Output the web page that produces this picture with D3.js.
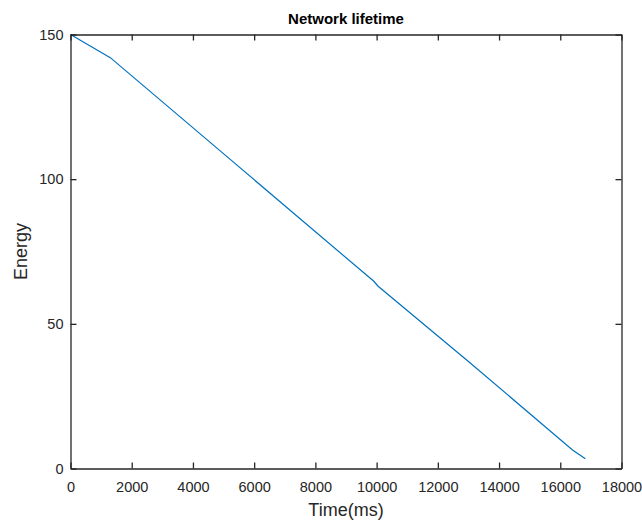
<!DOCTYPE html>
<html lang="en">
<head>
    <meta charset="UTF-8">
    <title>Network lifetime</title>
    <script type="text/javascript" src="https://cdn.jsdelivr.net/npm/d3@7/dist/d3.min.js"></script>
    <style>
        body { margin: 0; background: #fff; }
    </style>
</head>
<body>
<script>
    // data
    const timeMs = [0, 1300, 4900, 7500, 9900, 10050, 13000, 16400, 16820];
    const energy = [150, 142, 109.7, 86.3, 64.8, 63.0, 37.0, 6.4, 3.4];
    const xTicks = [0, 2000, 4000, 6000, 8000, 10000, 12000, 14000, 16000, 18000];
    const yTicks = [0, 50, 100, 150];

    const width = 642, height = 525;
    const margin = {top: 34.5, right: 20.5, bottom: 56.5, left: 70.5};
    const axisColor = '#262626';

    const svg = d3.select('body').append('svg')
        .attr('width', width)
        .attr('height', height)
        .style('font-family', '"Liberation Sans", Arial, sans-serif');

    const x = d3.scaleLinear().domain([0, 18000]).range([margin.left, width - margin.right]);
    const y = d3.scaleLinear().domain([0, 150]).range([height - margin.bottom, margin.top]);

    // 曲线
    const line = d3.line()
        .x((d, i) => x(timeMs[i]))
        .y(d => y(d));

    svg.append('path')
        .datum(energy)
        .attr('fill', 'none')
        .attr('stroke', '#0072BD')
        .attr('stroke-width', 1.2)
        .attr('d', line);

    // axes, ticks inward, box all round
    const styleAxis = g => {
        g.selectAll('path').attr('stroke', axisColor).attr('stroke-width', 1.3);
        g.selectAll('line').attr('stroke', axisColor).attr('stroke-width', 1.3);
        g.selectAll('text').attr('fill', axisColor).style('font-size', '14.5px');
    };

    svg.append('g')
        .attr('transform', `translate(0,${y(0)})`)
        .call(d3.axisBottom(x).tickValues(xTicks).tickFormat(d3.format('d')).tickSizeInner(-6).tickSizeOuter(0).tickPadding(13))
        .call(styleAxis);

    svg.append('g')
        .attr('transform', `translate(0,${y(150)})`)
        .call(d3.axisTop(x).tickValues(xTicks).tickFormat('').tickSizeInner(-6).tickSizeOuter(0))
        .call(styleAxis);

    svg.append('g')
        .attr('transform', `translate(${x(0)},0)`)
        .call(d3.axisLeft(y).tickValues(yTicks).tickSizeInner(-6).tickSizeOuter(0).tickPadding(7))
        .call(styleAxis);

    svg.append('g')
        .attr('transform', `translate(${x(18000)},0)`)
        .call(d3.axisRight(y).tickValues(yTicks).tickFormat('').tickSizeInner(-6).tickSizeOuter(0))
        .call(styleAxis);

    svg.selectAll('.domain').attr('fill', 'none');

    svg.append('text')
        .attr('x', (x(0) + x(18000)) / 2)
        .attr('y', 516)
        .attr('text-anchor', 'middle')
        .attr('fill', axisColor)
        .style('font-size', '18px')
        .text('Time(ms)');

    svg.append('text')
        .attr('transform', `translate(27,${(y(0) + y(150)) / 2}) rotate(-90)`)
        .attr('text-anchor', 'middle')
        .attr('fill', axisColor)
        .style('font-size', '18px')
        .text('Energy');

    svg.append('text')
        .attr('x', (x(0) + x(18000)) / 2)
        .attr('y', 24)
        .attr('text-anchor', 'middle')
        .attr('fill', '#000')
        .style('font-size', '15px')
        .style('font-weight', 'bold')
        .text('Network lifetime');
</script>
</body>
</html>
